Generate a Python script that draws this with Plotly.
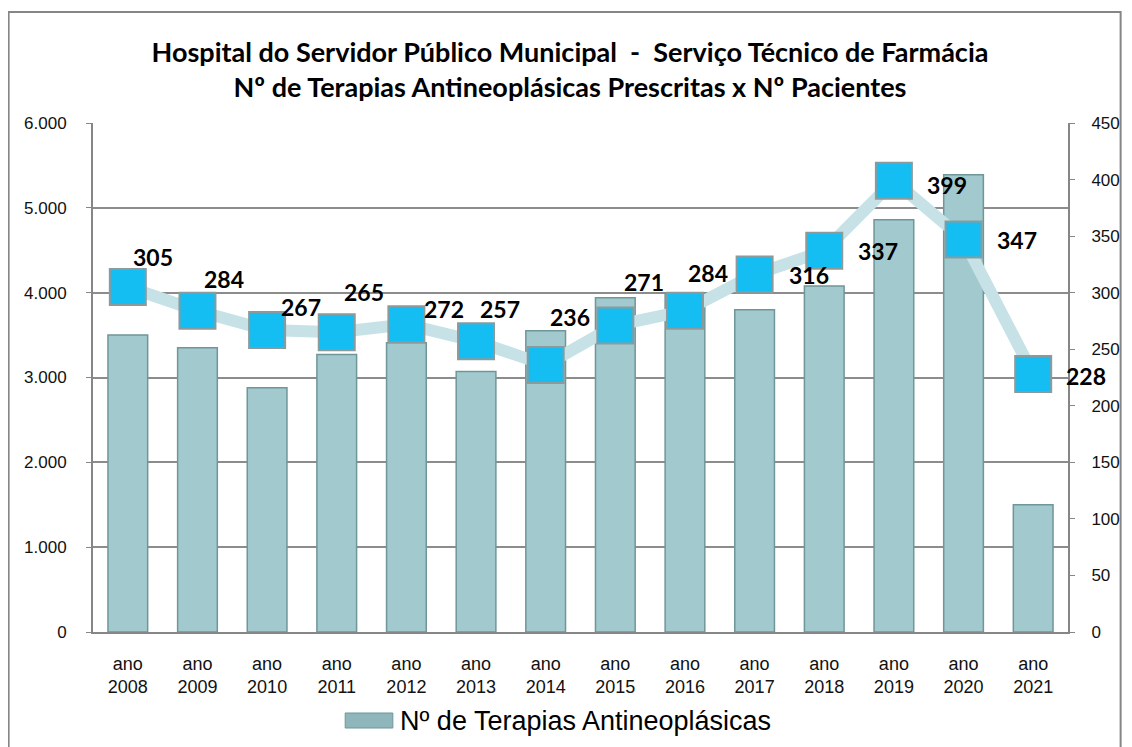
import plotly.graph_objects as go

years = ["2008", "2009", "2010", "2011", "2012", "2013", "2014",
         "2015", "2016", "2017", "2018", "2019", "2020", "2021"]
categories = ["ano<br>" + y for y in years]
terapias = [3500, 3350, 2880, 3270, 3410, 3070, 3550, 3940, 4000, 3800, 4080, 4860, 5390, 1500]
pacientes = [305, 284, 267, 265, 272, 257, 236, 271, 284, 316, 337, 399, 347, 228]
left_ticks = [0, 1000, 2000, 3000, 4000, 5000, 6000]
left_tick_text = ["0", "1.000", "2.000", "3.000", "4.000", "5.000", "6.000"]
right_ticks = [0, 50, 100, 150, 200, 250, 300, 350, 400, 450]

title_line1 = "Hospital do Servidor Público Municipal  -  Serviço Técnico de Farmácia"
title_line2 = "Nº de Terapias Antineoplásicas Prescritas x Nº Pacientes"
legend_text = "Nº de Terapias Antineoplásicas"

# label offsets (style only, pixels)
label_dx = [25, 27, 34, 27, 38, 24, 24, 29, 23, 54, 54, 53, 53, 53]
label_dy = [30, 32, 23, 40, 15, 32, 48, 43, 38, 0, 0, -4, 0, -2]

# figure geometry (page has an 8px body margin)
W, H = 1124, 739
ML, MR, MT, MB = 85, 57, 115, 115
PW, PH = W - ML - MR, H - MT - MB


def px(x):  # window pixel x -> paper
    return (x - 8 - ML) / PW


def py(y):  # window pixel y -> paper
    return (H - MB - (y - 8)) / PH


fig = go.Figure()
fig.add_trace(go.Bar(
    x=categories, y=terapias, name=legend_text,
    marker=dict(color="#A2C9CD", line=dict(color="#6F9699", width=1.5)),
    width=0.57, yaxis="y", showlegend=False,
))
fig.add_trace(go.Scatter(
    x=categories, y=pacientes, name="Nº Pacientes", yaxis="y2",
    mode="lines+markers",
    line=dict(color="#C6E2E6", width=12),
    marker=dict(symbol="square", size=36, color="#14BEF2",
                line=dict(color="#8C9A9C", width=2)),
    showlegend=False,
))

for c, v, dx, dy in zip(categories, pacientes, label_dx, label_dy):
    fig.add_annotation(x=c, y=v, xref="x", yref="y2", text=f"<b>{v}</b>",
                       showarrow=False, xshift=dx, yshift=dy,
                       font=dict(family="Lato", size=23, color="#000000"))

tick_font = dict(family="Arial, Liberation Sans", size=17, color="#111111")

fig.update_layout(
    width=W, height=H,
    margin=dict(l=ML, r=MR, t=MT, b=MB),
    paper_bgcolor="white", plot_bgcolor="white",
    title=dict(
        text=f"<b>{title_line1}</b><br><b>{title_line2}</b>",
        x=0.5, xanchor="center", xref="container",
        y=1 - 54 / H, yanchor="top", yref="container",
        font=dict(family="Lato", size=27, color="#000000"),
    ),
    xaxis=dict(
        type="category", range=[-0.5, len(categories) - 0.5],
        showgrid=False, showline=True, linecolor="#868686", linewidth=2,
        ticks="", ticklabelstandoff=14,
        tickfont=dict(family="Arial, Liberation Sans", size=18, color="#111111"),
    ),
    yaxis=dict(
        range=[0, 6000], tickvals=left_ticks, ticktext=left_tick_text,
        showgrid=True, gridcolor="#8C8C8C", gridwidth=1.5,
        showline=True, linecolor="#868686", linewidth=2,
        ticks="outside", ticklen=5, tickcolor="#868686", ticklabelstandoff=16,
        tickfont=tick_font, zeroline=False,
    ),
    yaxis2=dict(
        range=[0, 450], tickvals=right_ticks, overlaying="y", side="right",
        showgrid=False, showline=True, linecolor="#868686", linewidth=2,
        ticks="outside", ticklen=5, tickcolor="#868686", ticklabelstandoff=13,
        tickfont=tick_font, zeroline=False,
    ),
    showlegend=False,
)

# outer chart frame
fig.add_shape(type="rect", xref="paper", yref="paper",
              x0=px(8), x1=px(1128), y0=py(780), y1=py(12),
              line=dict(color="#868686", width=2), fillcolor="rgba(0,0,0,0)", layer="below")

# custom legend (swatch + text)
fig.add_shape(type="rect", xref="paper", yref="paper",
              x0=px(347), x1=px(395), y0=py(728), y1=py(713),
              fillcolor="#8FB6BA", line=dict(color="#6F9699", width=1))
fig.add_annotation(xref="paper", yref="paper", x=px(400), y=py(721),
                   xanchor="left", yanchor="middle", showarrow=False,
                   text=legend_text,
                   font=dict(family="Arial, Liberation Sans", size=27, color="#000000"))

fig.write_html("out.html")
